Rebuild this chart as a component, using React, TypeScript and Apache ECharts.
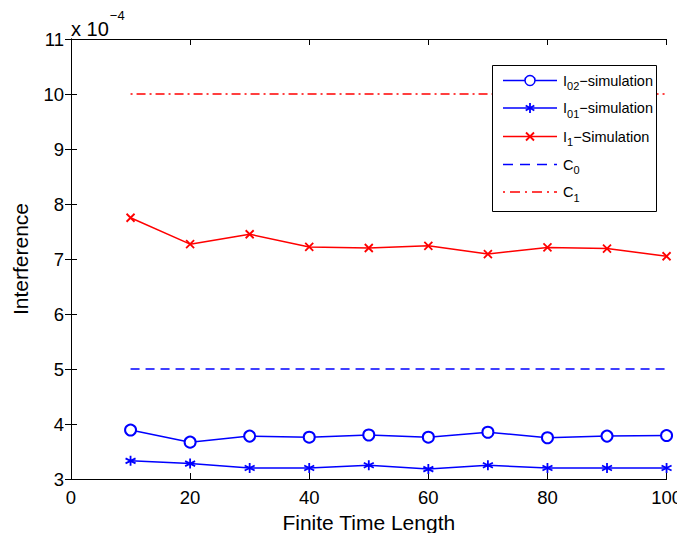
import React, { useEffect, useRef } from "react";
import * as echarts from "echarts";

// values in units of 1e-4
const timeLengths = [10, 20, 30, 40, 50, 60, 70, 80, 90, 100];
const i02Sim = [3.89, 3.67, 3.78, 3.76, 3.8, 3.76, 3.85, 3.75, 3.78, 3.79];
const i01Sim = [3.33, 3.28, 3.2, 3.2, 3.25, 3.18, 3.25, 3.2, 3.2, 3.2];
const i1Sim = [7.75, 7.27, 7.45, 7.22, 7.2, 7.24, 7.09, 7.21, 7.19, 7.05];
const c0 = [5, 5, 5, 5, 5, 5, 5, 5, 5, 5];
const c1 = [10, 10, 10, 10, 10, 10, 10, 10, 10, 10];
const yTicks = [3, 4, 5, 6, 7, 8, 9, 10, 11];
const legendBase = ["I", "I", "I", "C", "C"];
const legendSub = ["02", "01", "1", "0", "1"];
const legendTail = ["\u2212simulation", "\u2212simulation", "\u2212Simulation", "", ""];

const FONT = "Liberation Sans, Arial, Helvetica, sans-serif";
const BLUE = "#0000ff";
const RED = "#ff0000";
const ASTERISK = "path://M5,0 L5,10 M0.67,2.5 L9.33,7.5 M0.67,7.5 L9.33,2.5";
const XMARK = "path://M0,0 L10,10 M0,10 L10,0";

const pairs = (ys: number[]) => timeLengths.map((x, i) => [x, ys[i]]);

export default function App() {
  const ref = useRef<HTMLDivElement>(null);
  useEffect(() => {
    if (!ref.current) return;
    const chart = echarts.init(ref.current, undefined, { renderer: "svg" });
    const axisLine = { show: true, lineStyle: { color: "#000", width: 1 } };
    const tick = { inside: true, length: 6, lineStyle: { color: "#000" } };

    // legend drawn with graphic elements
    const lx0 = 503, lx1 = 557, mx = 530, tx = 563;
    const rowY = [80.5, 108, 136.5, 164.5, 192];
    const colors = [BLUE, BLUE, RED, BLUE, RED];
    const dashes: any[] = [null, null, null, [10, 7], [2, 5, 10, 5]];
    const legendEls: any[] = [
      {
        type: "rect",
        shape: { x: 492.5, y: 65.5, width: 164, height: 146 },
        style: { fill: "#fff", stroke: "#000", lineWidth: 1 },
        z: 100,
      },
    ];
    rowY.forEach((y, i) => {
      legendEls.push({
        type: "line",
        shape: { x1: lx0, y1: y, x2: lx1, y2: y },
        style: { stroke: colors[i], lineWidth: 1.5, lineDash: dashes[i] || undefined },
        z: 101,
      });
      legendEls.push({
        type: "text",
        x: tx,
        y: y - 11,
        style: {
          text: `{a|${legendBase[i]}}{s|${legendSub[i]}}{a|${legendTail[i]}}`,
          rich: {
            a: { fontFamily: FONT, fontSize: 14.5, fill: "#000" },
            s: { fontFamily: FONT, fontSize: 11, fill: "#000", padding: [11, 0, 0, 0] },
          },
        },
        z: 101,
      });
    });
    legendEls.push({
      type: "circle",
      shape: { cx: mx, cy: rowY[0], r: 5 },
      style: { fill: "#fff", stroke: BLUE, lineWidth: 1.5 },
      z: 102,
    });
    [[0, -5, 0, 5], [-4.3, -2.5, 4.3, 2.5], [-4.3, 2.5, 4.3, -2.5]].forEach((s) =>
      legendEls.push({
        type: "line",
        shape: { x1: mx + s[0], y1: rowY[1] + s[1], x2: mx + s[2], y2: rowY[1] + s[3] },
        style: { stroke: BLUE, lineWidth: 1.8 },
        z: 102,
      })
    );
    [[-4, -4, 4, 4], [-4, 4, 4, -4]].forEach((s) =>
      legendEls.push({
        type: "line",
        shape: { x1: mx + s[0], y1: rowY[2] + s[1], x2: mx + s[2], y2: rowY[2] + s[3] },
        style: { stroke: RED, lineWidth: 1.8 },
        z: 102,
      })
    );

    chart.setOption({
      animation: false,
      backgroundColor: "#fff",
      grid: { left: 71, right: 16, top: 39, bottom: 62, containLabel: false },
      xAxis: [
        {
          type: "value",
          min: 0,
          max: 100,
          interval: 20,
          name: "Finite Time Length",
          nameLocation: "middle",
          nameGap: 33,
          nameTextStyle: { fontFamily: FONT, fontSize: 21, color: "#000" },
          axisLine,
          axisTick: tick,
          axisLabel: { fontFamily: FONT, fontSize: 18.5, color: "#000", margin: 9 },
          splitLine: { show: false },
        },
        {
          type: "value",
          position: "top",
          min: 0,
          max: 100,
          interval: 20,
          axisLine,
          axisTick: tick,
          axisLabel: { show: false },
          splitLine: { show: false },
        },
      ],
      yAxis: [
        {
          type: "value",
          min: yTicks[0],
          max: yTicks[yTicks.length - 1],
          interval: 1,
          name: "Interference",
          nameLocation: "middle",
          nameGap: 40,
          nameTextStyle: { fontFamily: FONT, fontSize: 21, color: "#000" },
          axisLine,
          axisTick: tick,
          axisLabel: { fontFamily: FONT, fontSize: 18.5, color: "#000", margin: 7 },
          splitLine: { show: false },
        },
        {
          type: "value",
          position: "right",
          min: yTicks[0],
          max: yTicks[yTicks.length - 1],
          interval: 1,
          axisLine,
          axisTick: tick,
          axisLabel: { show: false },
          splitLine: { show: false },
        },
      ],
      series: [
        {
          name: "I02",
          type: "line",
          data: pairs(i02Sim),
          symbol: "emptyCircle",
          symbolSize: 11,
          lineStyle: { color: BLUE, width: 1.5 },
          itemStyle: { color: BLUE, borderColor: BLUE, borderWidth: 1.5 },
        },
        {
          name: "I01",
          type: "line",
          data: pairs(i01Sim),
          symbol: ASTERISK,
          symbolSize: 10,
          lineStyle: { color: BLUE, width: 1.5 },
          itemStyle: { color: BLUE, borderColor: BLUE, borderWidth: 1.8 },
        },
        {
          name: "I1",
          type: "line",
          data: pairs(i1Sim),
          symbol: XMARK,
          symbolSize: 8,
          lineStyle: { color: RED, width: 1.5 },
          itemStyle: { color: RED, borderColor: RED, borderWidth: 1.8 },
        },
        {
          name: "C0",
          type: "line",
          data: pairs(c0),
          symbol: "none",
          lineStyle: { color: BLUE, width: 1.5, type: [9, 6] },
        },
        {
          name: "C1",
          type: "line",
          data: pairs(c1),
          symbol: "none",
          lineStyle: { color: RED, width: 1.5, type: [2, 4, 9, 4] },
        },
      ],
      graphic: [
        {
          type: "text",
          x: 71,
          y: 9,
          style: {
            text: "{b|x 10}{e|\u22124}",
            rich: {
              b: { fontFamily: FONT, fontSize: 20, fill: "#000", padding: [10, 0, 0, 0] },
              e: { fontFamily: FONT, fontSize: 13, fill: "#000", verticalAlign: "top", padding: [0, 0, 0, 1] },
            },
          },
        },
        ...legendEls,
      ],
    });
    return () => chart.dispose();
  }, []);
  return <div ref={ref} style={{ width: 685, height: 541, margin: -8 }} />;
}
